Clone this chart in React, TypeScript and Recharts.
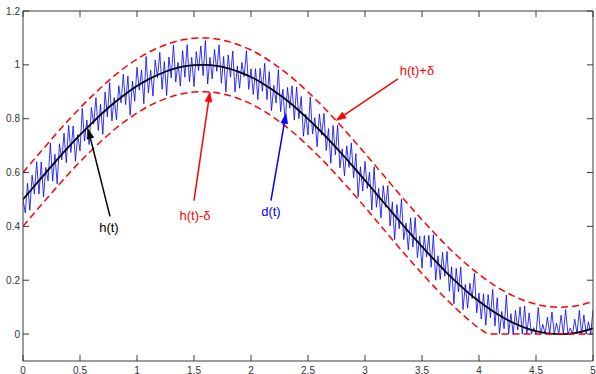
import React from 'react';
import { ComposedChart, Line, XAxis, YAxis, ReferenceLine, ReferenceDot } from 'recharts';

// ---- data ----
const T_SMOOTH_STEP = 0.1;
const T_NOISE_STEP = 0.02;

// h(t)
const H = [0.500,0.550,0.599,0.648,0.695,0.740,0.782,0.822,0.859,0.892,0.921,0.946,0.966,0.982,0.993,0.999,1.000,0.996,0.987,0.973,0.955,0.932,0.904,0.873,0.838,0.799,0.758,0.714,0.668,0.620,0.571,0.521,0.471,0.421,0.372,0.325,0.279,0.235,0.194,0.156,0.122,0.091,0.064,0.042,0.024,0.011,0.003,0.000,0.002,0.009,0.021];
// h(t)+delta
const UPPER = [0.600,0.650,0.699,0.748,0.795,0.840,0.882,0.922,0.959,0.992,1.021,1.046,1.066,1.082,1.093,1.099,1.100,1.096,1.087,1.073,1.055,1.032,1.004,0.973,0.938,0.899,0.858,0.814,0.768,0.720,0.671,0.621,0.571,0.521,0.472,0.425,0.379,0.335,0.294,0.256,0.222,0.191,0.164,0.142,0.124,0.111,0.103,0.100,0.102,0.109,0.121];
// h(t)-delta (floored at 0)
const LOWER = [0.400,0.450,0.499,0.548,0.595,0.640,0.682,0.722,0.759,0.792,0.821,0.846,0.866,0.882,0.893,0.899,0.900,0.896,0.887,0.873,0.855,0.832,0.804,0.773,0.738,0.699,0.658,0.614,0.568,0.520,0.471,0.421,0.371,0.321,0.272,0.225,0.179,0.135,0.094,0.056,0.022,0,0,0,0,0,0,0,0,0,0];
// d(t), noisy measurement
const D = [
0.500,0.450,0.560,0.460,0.590, 0.520,0.640,0.520,0.639,0.509, 0.619,0.569,0.709,0.568,0.668, 0.558,0.707,0.647,0.746,0.636,
0.775,0.674,0.773,0.642,0.741, 0.680,0.838,0.717,0.795,0.704, 0.842,0.780,0.878,0.756,0.854, 0.742,0.899,0.807,0.934,0.792,
0.879,0.796,0.922,0.859,0.965, 0.852,0.958,0.813,0.939,0.865, 0.991,0.906,0.981,0.856,1.031, 0.896,0.980,0.884,1.018,0.952,
1.046,0.909,1.012,0.886,1.029, 0.952,1.074,0.936,1.009,0.921, 1.053,0.954,1.075,0.937,1.028, 0.919,1.049,0.979,1.070,0.960,
1.090,0.929,1.028,0.948,1.057, 0.976,1.074,0.932,1.031,0.899, 1.037,0.954,1.051,0.899,0.996, 0.913,1.009,0.956,1.052,0.909,
0.985,0.890,0.986,0.871,0.987, 0.902,1.006,0.871,0.975,0.830, 0.924,0.858,0.982,0.826,0.909, 0.783,0.916,0.839,0.922,0.795,
0.918,0.800,0.882,0.735,0.817, 0.739,0.881,0.743,0.804,0.696, 0.818,0.739,0.820,0.682,0.763, 0.634,0.775,0.666,0.776,0.617,
0.688,0.588,0.699,0.619,0.710, 0.580,0.670,0.510,0.621,0.531, 0.641,0.541,0.601,0.461,0.621, 0.471,0.541,0.431,0.551,0.471,
0.551,0.401,0.491,0.351,0.481, 0.391,0.501,0.351,0.412,0.312, 0.432,0.323,0.433,0.284,0.364, 0.245,0.366,0.287,0.367,0.248,
0.369,0.200,0.291,0.203,0.304, 0.215,0.307,0.159,0.250,0.112, 0.244,0.156,0.249,0.091,0.184, 0.096,0.189,0.132,0.226,0.079,
0.152,0.056,0.150,0.033,0.147, 0.061,0.166,0.030,0.135,0.000, 0.084,0.020,0.145,0.000,0.076, 0.000,0.088,0.015,0.101,0.000,
0.104,0.000,0.079,0.000,0.024, 0.000,0.099,0.000,0.036,0.000, 0.063,0.000,0.082,0.000,0.041, 0.000,0.070,0.000,0.091,0.000,
0.022,0.000,0.055,0.000,0.088, 0.000,0.071,0.000,0.046,0.000, 0.091
];

const X_TICKS = [0, 0.5, 1, 1.5, 2, 2.5, 3, 3.5, 4, 4.5, 5];
const X_TICK_LABELS = ['0', '0.5', '1', '1.5', '2', '2.5', '3', '3.5', '4', '4.5', '5'];
const Y_TICKS = [0, 0.2, 0.4, 0.6, 0.8, 1, 1.2];
const Y_TICK_LABELS = ['0', '0.2', '0.4', '0.6', '0.8', '1', '1.2'];

// annotation arrows: [t, value] in data units
const ANNOTATIONS = [
  { label: 'h(t)', color: '#000000', tail: [0.763, 0.437], tip: [0.570, 0.763], text: [0.754, 0.396] },
  { label: 'h(t)-δ', color: '#ff0000', tail: [1.500, 0.496], tip: [1.640, 0.900], text: [1.509, 0.441] },
  { label: 'd(t)', color: '#0000ff', tail: [2.175, 0.496], tip: [2.307, 0.819], text: [2.175, 0.456] },
  { label: 'h(t)+δ', color: '#ff0000', tail: [3.289, 0.948], tip: [2.746, 0.793], text: [3.456, 0.978] },
];

const smoothRows = H.map((h, i) => ({ t: +(i * T_SMOOTH_STEP).toFixed(2), h, up: UPPER[i], lo: LOWER[i] }));
const noiseRows = D.map((d, i) => ({ t: +(i * T_NOISE_STEP).toFixed(2), d }));

const FONT = '"Liberation Sans", Arial, sans-serif';
const AX = '#3a3a3a';
const TICK_LEN = 6;

const BottomTick = (p: any) => {
  const i = X_TICKS.indexOf(p.payload.value);
  return (
    <g>
      <line x1={p.x} y1={p.y} x2={p.x} y2={p.y - TICK_LEN} stroke={AX} strokeWidth={1} />
      <text x={p.x} y={p.y + 9} textAnchor="middle" dominantBaseline="central" fontSize={10} fontFamily={FONT} fill="#333">
        {X_TICK_LABELS[i]}
      </text>
    </g>
  );
};
const TopTick = (p: any) => (
  <line x1={p.x} y1={p.y} x2={p.x} y2={p.y + TICK_LEN} stroke={AX} strokeWidth={1} />
);
const LeftTick = (p: any) => {
  const i = Y_TICKS.indexOf(p.payload.value);
  return (
    <g>
      <line x1={p.x} y1={p.y} x2={p.x + TICK_LEN} y2={p.y} stroke={AX} strokeWidth={1} />
      <text x={p.x - 3} y={p.y} textAnchor="end" dominantBaseline="central" fontSize={10} fontFamily={FONT} fill="#333">
        {Y_TICK_LABELS[i]}
      </text>
    </g>
  );
};
const RightTick = (p: any) => (
  <line x1={p.x} y1={p.y} x2={p.x - TICK_LEN} y2={p.y} stroke={AX} strokeWidth={1} />
);

const makeArrow = (color: string) => (props: any) => {
  const { x1, y1, x2, y2 } = props;
  const dx = x2 - x1;
  const dy = y2 - y1;
  const len = Math.hypot(dx, dy) || 1;
  const ux = dx / len;
  const uy = dy / len;
  const hl = 10;
  const hw = 3.5;
  const bx = x2 - ux * hl;
  const by = y2 - uy * hl;
  const px = -uy;
  const py = ux;
  return (
    <g>
      <line x1={x1} y1={y1} x2={bx + ux * 2} y2={by + uy * 2} stroke={color} strokeWidth={1.5} />
      <polygon
        points={`${x2},${y2} ${bx + px * hw},${by + py * hw} ${bx - px * hw},${by - py * hw}`}
        fill={color}
        stroke={color}
        strokeWidth={0.5}
      />
    </g>
  );
};

const makeText = (label: string, color: string) => (props: any) => (
  <text x={props.cx} y={props.cy} textAnchor="middle" dominantBaseline="central" fontSize={13} fontFamily={FONT} fill={color}>
    {label}
  </text>
);

export default function App() {
  return (
    <div style={{ position: 'absolute', left: 0, top: 0, width: 596, height: 374, background: '#fff' }}>
      <ComposedChart width={596} height={374} margin={{ top: 10, right: 2, bottom: 12, left: 22 }}>
        <XAxis
          dataKey="t"
          type="number"
          domain={[0, 5]}
          ticks={X_TICKS}
          interval={0}
          height={1}
          tickSize={0}
          tickMargin={0}
          tickLine={false}
          axisLine={{ stroke: AX, strokeWidth: 1 }}
          tick={BottomTick}
          allowDataOverflow
        />
        <XAxis
          xAxisId="top"
          orientation="top"
          dataKey="t"
          type="number"
          domain={[0, 5]}
          ticks={X_TICKS}
          interval={0}
          height={1}
          tickSize={0}
          tickMargin={0}
          tickLine={false}
          axisLine={{ stroke: AX, strokeWidth: 1 }}
          tick={TopTick}
          allowDataOverflow
        />
        <YAxis
          type="number"
          domain={[-0.1, 1.2]}
          ticks={Y_TICKS}
          interval={0}
          width={1}
          tickSize={0}
          tickMargin={0}
          tickLine={false}
          axisLine={{ stroke: AX, strokeWidth: 1 }}
          tick={LeftTick}
          allowDataOverflow
        />
        <YAxis
          yAxisId="right"
          orientation="right"
          type="number"
          domain={[-0.1, 1.2]}
          ticks={Y_TICKS}
          interval={0}
          width={1}
          tickSize={0}
          tickMargin={0}
          tickLine={false}
          axisLine={{ stroke: AX, strokeWidth: 1 }}
          tick={RightTick}
          allowDataOverflow
        />
        <Line data={noiseRows} dataKey="d" type="linear" stroke="#0000ff" strokeWidth={0.8} dot={false} activeDot={false} isAnimationActive={false} />
        <Line data={smoothRows} dataKey="h" type="monotone" stroke="#000000" strokeWidth={1.8} dot={false} activeDot={false} isAnimationActive={false} />
        <Line data={smoothRows} dataKey="up" type="monotone" stroke="#ff0000" strokeWidth={1.5} strokeDasharray="7 4" dot={false} activeDot={false} isAnimationActive={false} />
        <Line data={smoothRows} dataKey="lo" type="monotone" stroke="#ff0000" strokeWidth={1.5} strokeDasharray="7 4" dot={false} activeDot={false} isAnimationActive={false} />
        {ANNOTATIONS.map((a) => (
          <ReferenceLine
            key={'arr-' + a.label}
            segment={[{ x: a.tail[0], y: a.tail[1] }, { x: a.tip[0], y: a.tip[1] }]}
            shape={makeArrow(a.color)}
            ifOverflow="visible"
          />
        ))}
        {ANNOTATIONS.map((a) => (
          <ReferenceDot
            key={'txt-' + a.label}
            x={a.text[0]}
            y={a.text[1]}
            r={0}
            shape={makeText(a.label, a.color)}
            ifOverflow="visible"
          />
        ))}
      </ComposedChart>
    </div>
  );
}
